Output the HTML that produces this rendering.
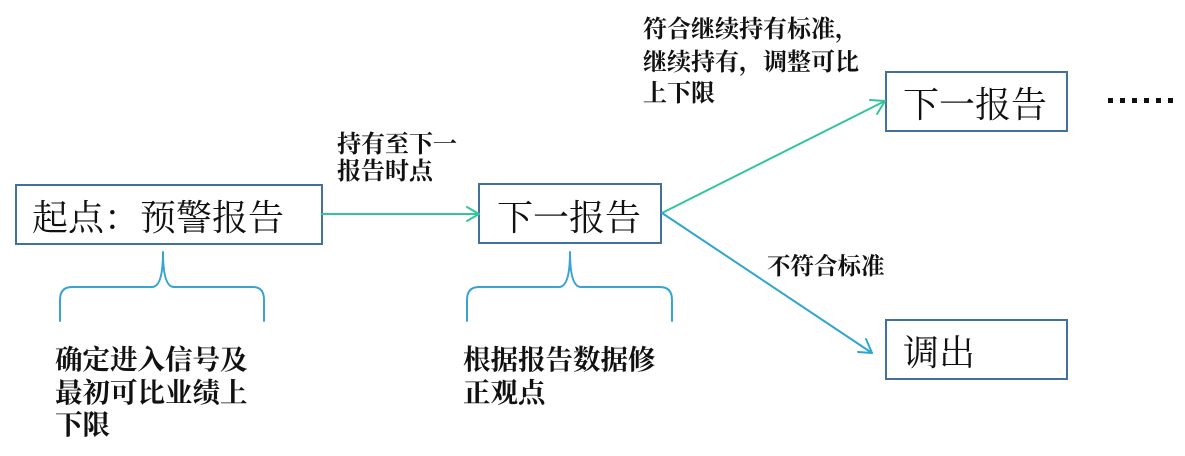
<!DOCTYPE html>
<html><head><meta charset="utf-8"><style>
html,body{margin:0;padding:0;background:#fff;}
body{width:1185px;height:456px;overflow:hidden;}
svg{display:block;}
.box{font-family:"Liberation Serif","Noto Serif CJK SC","Noto Sans CJK SC",serif;font-size:36px;fill:#111;}
.lbl{font-family:"Liberation Serif","Noto Serif CJK SC","Noto Sans CJK SC",serif;font-weight:bold;fill:#111;}
</style></head><body>
<svg width="1185" height="456" viewBox="0 0 1185 456" xmlns="http://www.w3.org/2000/svg">
<!-- boxes -->
<g fill="#fff" stroke="#41719c" stroke-width="2">
<rect x="16" y="185" width="306" height="59"/>
<rect x="479" y="184" width="182" height="59"/>
<rect x="886" y="72" width="181" height="59"/>
<rect x="886" y="320" width="181" height="59"/>
</g>
<text class="box" x="32" y="230">起点：预警报告</text>
<text class="box" x="497" y="230">下一报告</text>
<text class="box" x="903" y="117">下一报告</text>
<text class="box" x="903" y="365">调出</text>
<!-- arrows -->
<g fill="none" stroke-width="2" stroke-linecap="round" stroke-linejoin="round">
<path d="M322,214 L479,214" stroke="#33c59c"/>
<path d="M467,207 L479,214 L467,221" stroke="#33c59c"/>
<path d="M662,213 L885,101" stroke="#33c59c"/>
<path d="M870,100 L885,101 L877,114" stroke="#33c59c"/>
<path d="M662,213 L872,353" stroke="#2ea6d4"/>
<path d="M858,352 L872,353 L866,339" stroke="#2ea6d4"/>
<!-- braces -->
<path d="M60,321 L60,300 Q60,287 72,287 L152,287 Q163,287 163,252 Q163,287 174,287 L253,287 Q264,287 264,300 L264,321" stroke="#39a3d1"/>
<path d="M467,321 L467,300 Q467,287 479,287 L559,287 Q570,287 570,252 Q570,287 581,287 L660,287 Q672,287 672,300 L672,321" stroke="#39a3d1"/>
</g>
<!-- dots -->
<g fill="#111">
<rect x="1108" y="98" width="5" height="5"/>
<rect x="1120" y="98" width="5" height="5"/>
<rect x="1132" y="98" width="5" height="5"/>
<rect x="1144" y="98" width="5" height="5"/>
<rect x="1156" y="98" width="5" height="5"/>
<rect x="1168" y="98" width="5" height="5"/>
</g>
<!-- labels -->
<g class="lbl" font-size="24">
<text x="337" y="152">持有至下一</text>
<text x="337" y="179">报告时点</text>
<text x="643" y="37">符合继续持有标准，</text>
<text x="643" y="70">继续持有，调整可比</text>
<text x="643" y="101">上下限</text>
<text x="767" y="274" font-size="23.5">不符合标准</text>
</g>
<g class="lbl" font-size="27.5">
<text x="55" y="369">确定进入信号及</text>
<text x="55" y="402">最初可比业绩上</text>
<text x="55" y="434">下限</text>
<text x="463" y="369">根据报告数据修</text>
<text x="463" y="402">正观点</text>
</g>
</svg>
</body></html>
